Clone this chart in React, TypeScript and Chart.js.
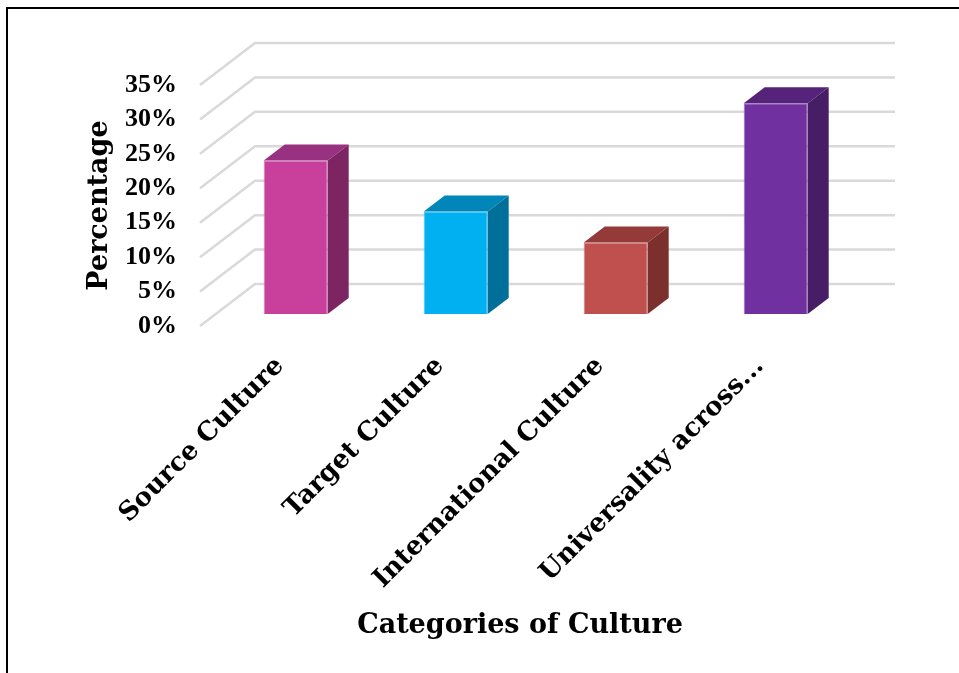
import React, { useEffect, useRef } from "react";
import { Chart, registerables } from "chart.js";

Chart.register(...registerables);

const categories: string[] = [
  "Source Culture",
  "Target Culture",
  "International Culture",
  "Universality across...",
];
const percentages: number[] = [22.3, 14.9, 10.4, 30.6];
const frontColors: string[] = ["#C8409C", "#00B0F0", "#C0504D", "#7030A0"];
const topColors: string[] = ["#983280", "#0086B8", "#943A38", "#55237A"];
const sideColors: string[] = ["#7D2562", "#006F99", "#7C302E", "#471D66"];
const edgeColors: string[] = ["#D77FBD", "#4CC8F4", "#D38482", "#9B6FBD"];
const yTickMax = 35;
const yTickStep = 5;
const xTitle = "Categories of Culture";
const yTitle = "Percentage";

// 3D geometry (pixels)
const WALL_DX = 55;
const WALL_DY = -42;
const FRONT_DX = 15.7;
const FRONT_DY = -12;
const DEPTH_DX = 21;
const DEPTH_DY = -16;

const threeD = {
  id: "threeD",
  beforeDatasetsDraw(chart: any) {
    const { ctx, chartArea, scales } = chart;
    const y = scales.y;
    ctx.save();
    ctx.strokeStyle = "#D9D9D9";
    ctx.lineWidth = 2.5;
    ctx.lineJoin = "round";
    y.ticks.forEach((t: any) => {
      const py = y.getPixelForValue(t.value);
      ctx.beginPath();
      ctx.moveTo(chartArea.left, py);
      ctx.lineTo(chartArea.left + WALL_DX, py + WALL_DY);
      ctx.lineTo(chartArea.right + WALL_DX, py + WALL_DY);
      ctx.stroke();
    });
    ctx.restore();
    ctx.save();
    ctx.translate(FRONT_DX, FRONT_DY);
  },
  afterDatasetsDraw(chart: any) {
    const { ctx } = chart;
    ctx.restore();
    const meta = chart.getDatasetMeta(0);
    meta.data.forEach((bar: any, i: number) => {
      const p = bar.getProps(["x", "y", "base", "width"], true);
      const l = p.x - p.width / 2 + FRONT_DX;
      const r = p.x + p.width / 2 + FRONT_DX;
      const t = p.y + FRONT_DY;
      const b = p.base + FRONT_DY;
      ctx.save();
      ctx.fillStyle = topColors[i];
      ctx.beginPath();
      ctx.moveTo(l, t);
      ctx.lineTo(l + DEPTH_DX, t + DEPTH_DY);
      ctx.lineTo(r + DEPTH_DX, t + DEPTH_DY);
      ctx.lineTo(r, t);
      ctx.closePath();
      ctx.fill();
      ctx.fillStyle = sideColors[i];
      ctx.beginPath();
      ctx.moveTo(r, t);
      ctx.lineTo(r + DEPTH_DX, t + DEPTH_DY);
      ctx.lineTo(r + DEPTH_DX, b + DEPTH_DY);
      ctx.lineTo(r, b);
      ctx.closePath();
      ctx.fill();
      ctx.restore();
    });
  },
};

export default function App() {
  const ref = useRef<HTMLCanvasElement | null>(null);

  useEffect(() => {
    if (!ref.current) return;
    const chart = new Chart(ref.current, {
      type: "bar",
      data: {
        labels: categories,
        datasets: [
          {
            data: percentages,
            backgroundColor: frontColors,
            borderColor: edgeColors,
            borderWidth: 1,
            categoryPercentage: 1,
            barPercentage: 0.4,
          },
        ],
      },
      options: {
        responsive: false,
        animation: false,
        events: [],
        layout: { padding: { left: 76, right: 119, top: 76, bottom: 27 } },
        plugins: {
          legend: { display: false },
          tooltip: { enabled: false },
        },
        scales: {
          x: {
            grid: { display: false, drawTicks: false },
            border: { display: false },
            ticks: {
              autoSkip: false,
              minRotation: 45,
              maxRotation: 45,
              padding: 25,
              color: "#000",
              font: { family: "'DejaVu Serif'", weight: "bold", size: 26 },
            },
            title: {
              display: true,
              text: xTitle,
              color: "#000",
              font: { family: "'DejaVu Serif'", weight: "bold", size: 27 },
            },
            afterFit: (s: any) => {
              s.height = 320;
            },
          },
          y: {
            min: 0,
            max: yTickMax,
            grid: { display: false, drawTicks: false },
            border: { display: false },
            ticks: {
              stepSize: yTickStep,
              padding: 23,
              color: "#000",
              font: { family: "'Liberation Serif'", weight: "bold", size: 26 },
              callback: (v: any) => `${v}%`,
            },
            title: {
              display: true,
              text: yTitle,
              color: "#000",
              padding: 0,
              font: { family: "'DejaVu Serif'", weight: "bold", size: 27 },
            },
            afterFit: (s: any) => {
              s.width = 116;
            },
          },
        },
      },
      plugins: [threeD],
    });
    return () => chart.destroy();
  }, []);

  return (
    <div
      style={{
        position: "fixed",
        left: 6,
        top: 7,
        right: 0,
        bottom: 0,
        borderTop: "2px solid #000",
        borderLeft: "2px solid #000",
        boxSizing: "border-box",
        background: "#fff",
      }}
    >
      <canvas ref={ref} width={951} height={664} style={{ display: "block" }} />
    </div>
  );
}
